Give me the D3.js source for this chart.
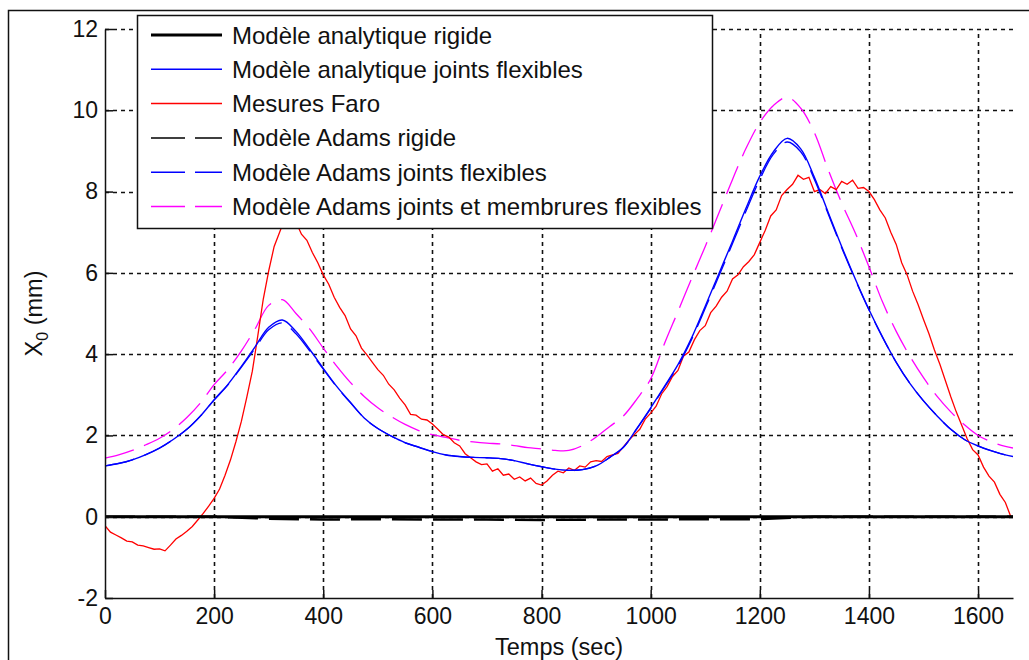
<!DOCTYPE html>
<html>
<head>
<meta charset="utf-8">
<script src="https://cdn.jsdelivr.net/npm/d3@7"></script>
<style>
  body { margin: 0; background: #fff; }
  svg { display: block; font-family: "Liberation Sans", Arial, sans-serif; }
  .grid line { stroke: #111; stroke-width: 1.6; stroke-dasharray: 4,4; }
  .axis path, .axis line { stroke: #111; stroke-width: 1.5; }
  .axis text { fill: #111; font-size: 23px; font-family: "Liberation Sans", Arial, sans-serif; }
  .series { fill: none; }
</style>
</head>
<body>
<script>
const xTicks = [0, 200, 400, 600, 800, 1000, 1200, 1400, 1600];
const yTicks = [-2, 0, 2, 4, 6, 8, 10, 12];

const seriesNames = [
  "Modèle analytique rigide",
  "Modèle analytique joints flexibles",
  "Mesures Faro",
  "Modèle Adams rigide",
  "Modèle Adams joints flexibles",
  "Modèle Adams joints et membrures flexibles"
];

// sampled times of the smooth model curves (sec)
const modelTimes = [0, 25, 50, 75, 100, 125, 150, 175, 200, 225, 250, 275, 300, 325, 350, 375,
  400, 425, 450, 475, 500, 525, 550, 575, 600, 625, 650, 675, 700, 725, 750, 775,
  800, 825, 850, 875, 900, 925, 950, 975, 1000, 1025, 1050, 1075, 1100, 1125, 1150, 1175,
  1200, 1225, 1250, 1275, 1300, 1325, 1350, 1375, 1400, 1425, 1450, 1475, 1500, 1525, 1550, 1575,
  1600, 1625, 1650, 1664];

const analytiqueFlex = [1.25, 1.31, 1.40, 1.53, 1.69, 1.90, 2.15, 2.48, 2.88, 3.25, 3.70, 4.18, 4.66, 4.84, 4.56, 4.12,
  3.65, 3.20, 2.81, 2.43, 2.17, 1.98, 1.82, 1.71, 1.60, 1.52, 1.48, 1.46, 1.45, 1.43, 1.38, 1.30,
  1.23, 1.17, 1.14, 1.16, 1.25, 1.46, 1.71, 2.18, 2.68, 3.20, 3.74, 4.40, 5.18, 5.98, 6.78, 7.60,
  8.38, 8.98, 9.31, 9.05, 8.35, 7.50, 6.65, 5.85, 5.10, 4.42, 3.80, 3.28, 2.85, 2.48, 2.15, 1.90,
  1.74, 1.62, 1.52, 1.48];

const adamsFlex = [1.25, 1.31, 1.40, 1.53, 1.69, 1.90, 2.15, 2.48, 2.87, 3.24, 3.68, 4.14, 4.60, 4.77, 4.50, 4.08,
  3.63, 3.19, 2.80, 2.43, 2.17, 1.98, 1.82, 1.71, 1.60, 1.52, 1.48, 1.46, 1.45, 1.43, 1.38, 1.30,
  1.23, 1.17, 1.14, 1.16, 1.25, 1.46, 1.71, 2.17, 2.66, 3.18, 3.71, 4.36, 5.13, 5.92, 6.72, 7.53,
  8.30, 8.92, 9.22, 8.98, 8.30, 7.46, 6.62, 5.83, 5.09, 4.41, 3.80, 3.28, 2.85, 2.48, 2.15, 1.90,
  1.74, 1.62, 1.52, 1.48];

const adamsMembrures = [1.44, 1.52, 1.63, 1.77, 1.93, 2.15, 2.44, 2.80, 3.25, 3.62, 4.08, 4.62, 5.20, 5.34, 5.00, 4.62,
  4.15, 3.70, 3.30, 2.96, 2.68, 2.46, 2.27, 2.12, 2.02, 1.95, 1.88, 1.84, 1.81, 1.79, 1.75, 1.70,
  1.67, 1.63, 1.63, 1.75, 1.96, 2.22, 2.48, 2.90, 3.39, 4.25, 5.05, 5.86, 6.65, 7.47, 8.30, 9.07,
  9.70, 10.12, 10.32, 10.05, 9.45, 8.55, 7.72, 6.98, 6.15, 5.28, 4.56, 3.95, 3.42, 2.96, 2.58, 2.26,
  2.00, 1.84, 1.73, 1.69];

const rigidTimes = [0, 100, 200, 300, 400, 500, 600, 700, 800, 900, 1000, 1100, 1200, 1300, 1400, 1500, 1600, 1664];
const analytiqueRigide = [0, 0, 0, 0, 0, 0, 0, 0, 0, 0, 0, 0, 0, 0, 0, 0, 0, 0];
const adamsRigide = [0, 0, 0, -0.05, -0.07, -0.06, -0.07, -0.07, -0.08, -0.07, -0.07, -0.06, -0.06, 0, 0, 0, 0, 0];

// Faro measurements, one sample every 10 s from t = 0
const faroStep = 10;
const faroValues = [
  -0.22, -0.38, -0.45, -0.52, -0.60, -0.62, -0.70, -0.72, -0.76, -0.80,
  -0.79, -0.84, -0.70, -0.55, -0.46, -0.36, -0.24, -0.08, 0.08, 0.26,
  0.45, 0.68, 1.02, 1.40, 1.85, 2.35, 2.95, 3.58, 4.45, 5.35,
  6.05, 6.65, 7.00, 7.35, 7.55, 7.25, 6.95, 6.80, 6.50, 6.25,
  5.95, 5.72, 5.40, 5.15, 4.95, 4.62, 4.45, 4.15, 3.98, 3.80,
  3.62, 3.48, 3.26, 3.12, 2.92, 2.75, 2.52, 2.50, 2.40, 2.38,
  2.28, 2.15, 2.02, 1.96, 1.82, 1.74, 1.55, 1.45, 1.35, 1.28,
  1.30, 1.12, 1.18, 1.02, 1.05, 0.92, 0.98, 0.88, 0.95, 0.82,
  0.78, 0.88, 1.02, 1.12, 1.08, 1.20, 1.14, 1.25, 1.22, 1.35,
  1.38, 1.36, 1.48, 1.52, 1.56, 1.72, 1.88, 2.02, 2.15, 2.40,
  2.55, 2.72, 3.02, 3.20, 3.45, 3.60, 3.95, 4.05, 4.35, 4.58,
  4.70, 5.02, 5.18, 5.40, 5.55, 5.85, 5.95, 6.15, 6.28, 6.45,
  6.75, 7.05, 7.40, 7.55, 7.90, 8.05, 8.18, 8.40, 8.30, 8.35,
  8.00, 8.05, 7.95, 8.12, 8.05, 8.25, 8.18, 8.28, 8.08, 8.10,
  8.00, 7.80, 7.55, 7.35, 7.00, 6.70, 6.25, 5.95, 5.55, 5.22,
  4.85, 4.50, 4.10, 3.75, 3.35, 2.95, 2.58, 2.25, 1.92, 1.65,
  1.52, 1.22, 1.00, 0.85, 0.55, 0.35, 0.00
];

const xMax = 1664;

function zip(times, values){
    return values.map((v, i) => [times[i], v]);
}

// snap to the pixel grid so the dashes stay sharp
function crisp(v){
    return Math.round(v) + 0.5;
}

class ChartDrawer {
    constructor(width, height){
        this.width = width;
        this.height = height;

        this.x = d3.scaleLinear().domain([0, xMax]).range([105, 1013]);
        this.y = d3.scaleLinear().domain([-2, 12]).range([598, 29]);

        this.build();
    }

    build(){
        this.createSvg();
        this.addFrame();
        this.addGrid();
        this.addSeries();
        this.addAxes();
        this.addLabels();
        this.addLegend();
    }

    createSvg(){
        this.svg = d3.select("body")
            .append("svg")
            .attr("width", this.width)
            .attr("height", this.height);

        this.svg.append("clipPath")
            .attr("id", "plot-clip")
            .append("rect")
            .attr("x", this.x(0))
            .attr("y", this.y(12) - 2)
            .attr("width", this.x(xMax) - this.x(0))
            .attr("height", this.y(-2) - this.y(12) + 2);
    }

    addFrame(){
        // figure border, only left and top edges fall inside the picture
        this.svg.append("rect")
            .attr("x", 8.5)
            .attr("y", 10.5)
            .attr("width", 1200)
            .attr("height", 800)
            .attr("fill", "none")
            .attr("stroke", "#111")
            .attr("stroke-width", 1.5);
    }

    addGrid(){
        let grid = this.svg.append("g").attr("class", "grid");

        grid.selectAll(".vline")
            .data(xTicks.filter(d => d > 0))
            .enter().append("line")
            .attr("x1", d => crisp(this.x(d))).attr("x2", d => crisp(this.x(d)))
            .attr("y1", this.y(-2)).attr("y2", this.y(12));

        grid.selectAll(".hline")
            .data(yTicks.filter(d => d > -2))
            .enter().append("line")
            .attr("x1", this.x(0)).attr("x2", this.x(xMax))
            .attr("y1", d => crisp(this.y(d))).attr("y2", d => crisp(this.y(d)));
    }

    addSeries(){
        let smooth = d3.line()
            .x(d => this.x(d[0]))
            .y(d => this.y(d[1]))
            .curve(d3.curveCatmullRom);

        let straight = d3.line()
            .x(d => this.x(d[0]))
            .y(d => this.y(d[1]));

        let faro = faroValues.map((v, i) => [i * faroStep, v]);

        let layers = [
            {data: zip(modelTimes, adamsMembrures), color: "#ff00ff", width: 1.3, dash: "30,11", line: smooth},
            {data: faro, color: "#ff0000", width: 1.3, dash: null, line: straight},
            {data: zip(modelTimes, analytiqueFlex), color: "#0000ff", width: 1.4, dash: null, line: smooth},
            {data: zip(modelTimes, adamsFlex), color: "#0000ff", width: 1.3, dash: "30,11", line: smooth},
            {data: zip(rigidTimes, adamsRigide), color: "#000", width: 2.5, dash: "30,11", line: straight},
            {data: zip(rigidTimes, analytiqueRigide), color: "#000", width: 3, dash: null, line: straight}
        ];

        let g = this.svg.append("g").attr("clip-path", "url(#plot-clip)");

        g.selectAll(".series")
            .data(layers)
            .enter().append("path")
            .attr("class", "series")
            .attr("stroke", d => d.color)
            .attr("stroke-width", d => d.width)
            .attr("stroke-dasharray", d => d.dash)
            .attr("d", d => d.line(d.data));
    }

    addAxes(){
        this.svg.append("g")
            .attr("class", "axis")
            .attr("transform", `translate(0,${this.y(-2)})`)
            .call(d3.axisBottom(this.x)
                .tickValues(xTicks)
                .tickFormat(d => String(d))
                .tickSizeInner(-8)
                .tickSizeOuter(0)
                .tickPadding(10));

        this.svg.append("g")
            .attr("class", "axis")
            .attr("transform", `translate(${this.x(0)},0)`)
            .call(d3.axisLeft(this.y)
                .tickValues(yTicks)
                .tickFormat(d => String(d))
                .tickSizeInner(-8)
                .tickSizeOuter(0)
                .tickPadding(7));
    }

    addLabels(){
        this.svg.append("text")
            .attr("x", (this.x(0) + this.x(xMax)) / 2)
            .attr("y", 655)
            .attr("text-anchor", "middle")
            .attr("font-size", 23.5)
            .attr("fill", "#111")
            .text("Temps (sec)");

        let ylab = this.svg.append("text")
            .attr("transform", `translate(42,${(this.y(-2) + this.y(12)) / 2}) rotate(-90)`)
            .attr("text-anchor", "middle")
            .attr("font-size", 23.5)
            .attr("fill", "#111");
        ylab.append("tspan").text("X");
        ylab.append("tspan").attr("font-size", 16).attr("dy", 6).text("0");
        ylab.append("tspan").attr("dy", -6).text(" (mm)");
    }

    addLegend(){
        let styles = [
            {color: "#000", width: 3, dash: null},
            {color: "#0000ff", width: 1.5, dash: null},
            {color: "#ff0000", width: 1.5, dash: null},
            {color: "#000", width: 1.5, dash: "34,10"},
            {color: "#0000ff", width: 1.5, dash: "34,10"},
            {color: "#ff00ff", width: 1.5, dash: "34,10"}
        ];

        let legend = this.svg.append("g").attr("class", "legend");

        legend.append("rect")
            .attr("x", 137.5).attr("y", 15.5)
            .attr("width", 575).attr("height", 213)
            .attr("fill", "#fff")
            .attr("stroke", "#111")
            .attr("stroke-width", 1.5);

        let rows = legend.selectAll(".row")
            .data(seriesNames)
            .enter().append("g")
            .attr("class", "row")
            .attr("transform", (d, i) => "translate(0," + (35 + i * 34.3) + ")");

        rows.append("line")
            .attr("x1", 151).attr("x2", 222)
            .attr("stroke", (d, i) => styles[i].color)
            .attr("stroke-width", (d, i) => styles[i].width)
            .attr("stroke-dasharray", (d, i) => styles[i].dash);

        rows.append("text")
            .attr("x", 232)
            .attr("dy", 8.5)
            .attr("font-size", 24)
            .attr("fill", "#111")
            .text(d => d);
    }
}

new ChartDrawer(1029, 660);
</script>
</body>
</html>
